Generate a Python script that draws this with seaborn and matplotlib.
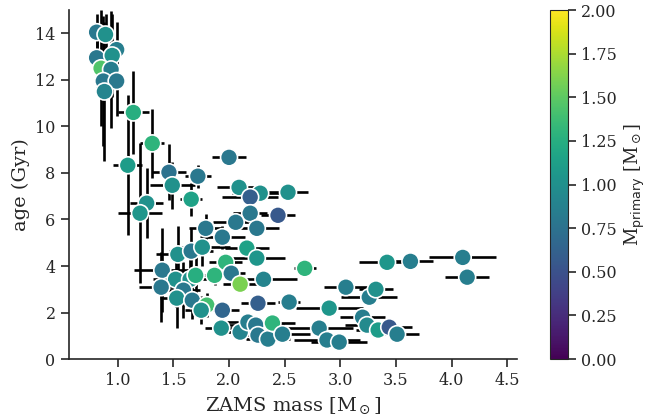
import numpy as np
import pandas as pd
import matplotlib
matplotlib.use("Agg")
import matplotlib.pyplot as plt
import seaborn as sns

zams_mass = [0.81, 0.89, 0.99, 0.81, 0.95, 0.85, 0.94, 0.87, 0.99, 0.88, 1.14,
             1.31, 1.09, 1.46, 1.72, 1.49, 1.66, 2.00, 2.09, 2.28, 2.53, 2.19,
             2.19, 2.44, 2.06, 2.25, 1.79, 1.94, 1.26, 1.20, 1.54, 1.66, 1.76,
             2.16, 2.25, 1.97, 1.40, 1.52, 1.65, 1.70, 1.87, 2.02, 2.10, 2.31,
             1.39, 1.59, 1.53, 1.67, 1.80, 1.75, 1.94, 2.26, 2.54, 1.93, 2.10,
             2.17, 2.24, 2.26, 2.35, 2.39, 2.48, 2.68, 3.42, 3.63, 4.10, 4.14,
             3.05, 3.26, 3.32, 2.90, 3.20, 3.24, 3.34, 3.44, 3.51, 2.81, 2.88,
             2.99]
mass_err = [0.03, 0.03, 0.03, 0.02, 0.03, 0.03, 0.03, 0.04, 0.07, 0.03, 0.14,
            0.11, 0.13, 0.15, 0.12, 0.2, 0.1, 0.15, 0.2, 0.25, 0.18, 0.25,
            0.15, 0.15, 0.2, 0.2, 0.15, 0.2, 0.15, 0.2, 0.2, 0.2, 0.25,
            0.2, 0.25, 0.15, 0.25, 0.2, 0.15, 0.15, 0.1, 0.12, 0.15, 0.3,
            0.2, 0.15, 0.15, 0.15, 0.1, 0.15, 0.15, 0.15, 0.1, 0.15, 0.2,
            0.2, 0.25, 0.2, 0.2, 0.2, 0.25, 0.1, 0.25, 0.2, 0.3, 0.2,
            0.2, 0.25, 0.15, 0.3, 0.2, 0.2, 0.2, 0.2, 0.2, 0.3, 0.3,
            0.25]
age = [14.05, 13.95, 13.3, 12.95, 13.05, 12.5, 12.45, 11.95, 11.95, 11.5, 10.6,
       9.27, 8.33, 8.03, 7.86, 7.47, 6.87, 8.67, 7.38, 7.13, 7.17, 6.96,
       6.27, 6.18, 5.88, 5.62, 5.62, 5.24, 6.7, 6.27, 4.5, 4.64, 4.81,
       4.77, 4.34, 4.16, 3.82, 3.43, 3.43, 3.6, 3.6, 3.69, 3.22, 3.43,
       3.09, 2.96, 2.62, 2.53, 2.32, 2.1, 2.1, 2.4, 2.45, 1.33, 1.16,
       1.59, 1.46, 1.03, 0.86, 1.55, 1.07, 3.9, 4.16, 4.2, 4.37, 3.52,
       3.09, 2.66, 3.0, 2.19, 1.8, 1.46, 1.25, 1.37, 1.07, 1.33, 0.82,
       0.73]
age_err = [0.8, 0.9, 1.2, 1.5, 1.8, 2.5, 2.5, 2.8, 1.5, 3.0, 1.8,
           1.5, 3.0, 1.2, 0.5, 1.0, 0.7, 0.1, 0.3, 0.2, 0.1, 0.3,
           0.3, 0.2, 0.3, 0.3, 0.6, 0.5, 1.5, 3.0, 1.2, 1.0, 0.8,
           0.3, 0.2, 0.3, 1.8, 1.2, 1.0, 0.8, 0.4, 0.3, 0.3, 0.2,
           1.5, 1.2, 1.3, 0.8, 0.5, 0.6, 0.4, 0.2, 0.2, 0.3, 0.2,
           0.3, 0.2, 0.2, 0.15, 0.2, 0.15, 0.1, 0.1, 0.15, 0.1, 0.1,
           0.1, 0.15, 0.1, 0.1, 0.1, 0.1, 0.1, 0.1, 0.1, 0.15, 0.1,
           0.1]
m_primary = [0.8, 1.0, 0.85, 0.8, 1.0, 1.45, 0.85, 0.8, 0.8, 0.9, 1.25,
             1.3, 1.1, 0.75, 0.8, 1.0, 1.15, 0.8, 1.0, 1.0, 1.0, 0.6,
             0.8, 0.55, 0.8, 0.8, 0.8, 0.8, 1.0, 1.05, 1.0, 0.8, 1.0,
             1.15, 1.05, 1.3, 0.8, 1.0, 1.0, 1.25, 1.3, 0.8, 1.6, 0.9,
             0.8, 0.8, 1.0, 0.8, 1.4, 1.0, 0.65, 0.6, 0.85, 1.0, 0.9,
             0.85, 0.8, 0.8, 0.85, 1.3, 0.85, 1.3, 1.05, 0.85, 0.85, 0.85,
             0.85, 0.85, 1.0, 1.05, 0.85, 0.95, 1.1, 0.55, 0.85, 0.85, 0.85,
             0.85]

df = pd.DataFrame({'mass': zams_mass, 'mass_err': mass_err, 'age': age,
                   'age_err': age_err, 'mprim': m_primary})

sns.set_style('ticks')
plt.rcParams['font.family'] = ['DejaVu Serif']

fig = plt.figure(figsize=(6.49, 4.2), dpi=100)
ax = fig.add_axes([0.106, 0.145, 0.691, 0.831])
cax = fig.add_axes([0.847, 0.145, 0.028, 0.831])

ax.errorbar(df['mass'], df['age'], xerr=df['mass_err'], yerr=df['age_err'],
            fmt='none', ecolor='black', elinewidth=1.9, capsize=0, zorder=1)

sns.scatterplot(data=df, x='mass', y='age', hue='mprim', palette='viridis',
                hue_norm=(0, 2), s=150, edgecolor='white', linewidth=1.2,
                legend=False, ax=ax, zorder=3)

ax.set_xlim(0.56, 4.59)
ax.set_ylim(0, 15)
ax.set_xticks([1.0, 1.5, 2.0, 2.5, 3.0, 3.5, 4.0, 4.5])
ax.set_yticks(range(0, 15, 2))
ax.set_xlabel(r'ZAMS mass [M$_\odot$]', fontsize=14)
ax.set_ylabel('age (Gyr)', fontsize=14)
ax.tick_params(labelsize=11.5, length=6, width=1.2)
for s in ax.spines.values():
    s.set_linewidth(1.2)
sns.despine(ax=ax)

sm = plt.cm.ScalarMappable(cmap='viridis', norm=plt.Normalize(0, 2))
cb = fig.colorbar(sm, cax=cax)
cb.set_ticks([0, 0.25, 0.5, 0.75, 1.0, 1.25, 1.5, 1.75, 2.0])
cb.ax.tick_params(labelsize=11.5, length=6, width=1.2)
cb.set_label(r'M$_\mathrm{primary}$ [M$_\odot$]', fontsize=13)

fig.savefig('out.png', dpi=100)
